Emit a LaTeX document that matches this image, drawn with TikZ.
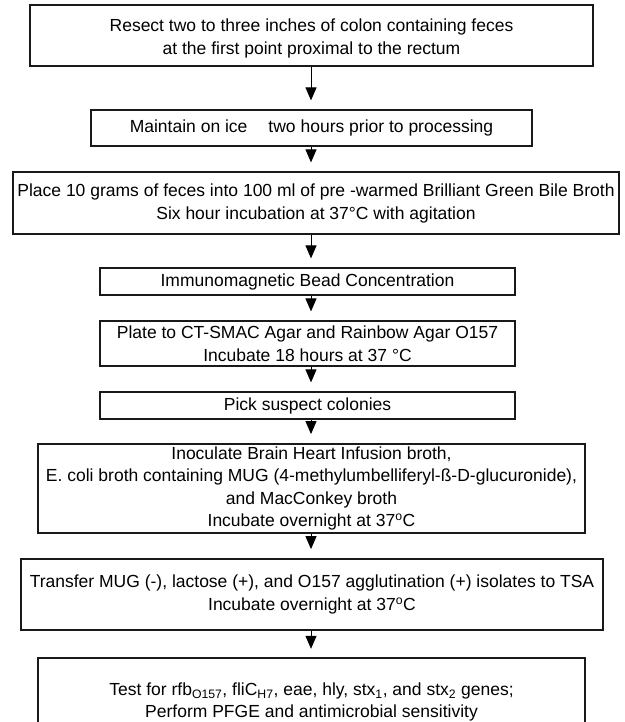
\documentclass[tikz,border=0pt]{standalone}
\usepackage{fontspec}
\setmainfont{Liberation Sans}
\usetikzlibrary{arrows.meta}
\begin{document}
\begin{tikzpicture}[x=1pt,y=-1pt,
  stepbox/.style={draw=black!90, line width=1.2pt, rectangle, inner sep=0pt, align=center,
     font=\fontsize{17.5}{23}\selectfont},
  thickbox/.style={stepbox, line width=1.8pt},
  flow/.style={draw=black, line width=1pt, -{Triangle[width=11pt,length=13pt]}, shorten >=9pt}]
\useasboundingbox[fill=white] (0,0) rectangle (624,722);
\coordinate (ax) at (311,0);
\node[stepbox, minimum width=563pt, minimum height=61pt] (b1) at (311.5,35.5)
  {\rule{0pt}{19pt}Resect two to three inches of colon containing feces\\at the first point proximal to the rectum};
\node[stepbox, minimum width=441pt, minimum height=36pt] (b2) at (311.5,128)
  {Maintain on ice\hspace{1.2em}two hours prior to processing};
\node[stepbox, minimum width=606pt, minimum height=62pt] (b3) at (316,203)
  {Place 10 grams of feces into 100 ml of pre -warmed Brilliant Green Bile Broth\\Six hour incubation at 37°C with agitation};
\node[stepbox, minimum width=415pt, minimum height=27pt] (b4) at (307.5,281.5)
  {Immunomagnetic Bead Concentration};
\node[stepbox, minimum width=415pt, minimum height=45pt] (b5) at (307.5,343.5)
  {Plate to CT-SMAC Agar and Rainbow Agar O157\\Incubate 18 hours at 37 °C};
\node[stepbox, minimum width=415pt, minimum height=27pt] (b6) at (307.5,405.5)
  {Pick suspect colonies};
\node[thickbox, minimum width=547pt, minimum height=89pt, font=\fontsize{17.5}{22.5}\selectfont] (b7) at (311.5,488.5)
  {Inoculate Brain Heart Infusion broth,\\E. coli broth containing MUG (4-methylumbelliferyl-ß-D-glucuronide),\\and MacConkey broth\\Incubate overnight at 37\textsuperscript{o}C};
\node[thickbox, minimum width=582pt, minimum height=71pt] (b8) at (312,594.5)
  {Transfer MUG (-), lactose (+), and O157 agglutination (+) isolates to TSA\\Incubate overnight at 37\textsuperscript{o}C};
\node[draw=none, minimum width=547pt, minimum height=64pt, inner sep=0pt] (b9) at (311.5,690) {};
\draw[draw=black!90, line width=1.8pt] (b9.south west) -- (b9.north west) -- (b9.north east) -- (b9.south east);
\node[align=center, inner sep=0pt, font=\fontsize{17.5}{22}\selectfont] (b9t) at (311.5,702)
  {Test for rfb\textsubscript{O157}, fliC\textsubscript{H7}, eae, hly, stx\textsubscript{1}, and stx\textsubscript{2} genes;\\Perform PFGE and antimicrobial sensitivity};
\draw[flow] (b1.south -| ax) -- (b2.north -| ax);
\draw[flow] (b2.south -| ax) -- (b3.north -| ax);
\draw[flow] (b3.south -| ax) -- (b4.north -| ax);
\draw[flow] (b4.south -| ax) -- (b5.north -| ax);
\draw[flow] (b5.south -| ax) -- (b6.north -| ax);
\draw[flow] (b6.south -| ax) -- (b7.north -| ax);
\draw[flow] (b7.south -| ax) -- (b8.north -| ax);
\draw[flow] (b8.south -| ax) -- (b9.north -| ax);
\end{tikzpicture}
\end{document}
